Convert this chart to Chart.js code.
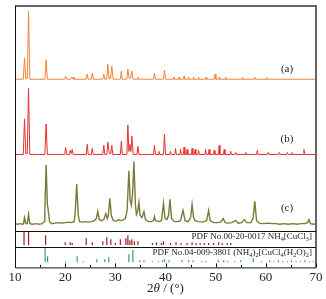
<!DOCTYPE html>
<html lang="en">
<head>
<meta charset="UTF-8">
<title>XRD patterns</title>
<script src="https://cdn.jsdelivr.net/npm/chart.js"></script>
<style>
  html, body { margin: 0; padding: 0; background: #fff; }
  #wrap { width: 326px; height: 299px; }
</style>
</head>
<body>
<div id="wrap"><canvas id="xrd"></canvas></div>
<script>
// x axis
const xTicks = [10, 20, 30, 40, 50, 60, 70];

// measured patterns, [2theta, intensity] pairs (arbitrary units)
const traceA = [
  [10,0],[11.65,0],[11.9,21],[12.15,0.5],[12.45,0.5],[12.7,67],[12.95,0],
  [15.95,0],[16.2,19],[16.45,0],[19.9,0],[20.1,3],[20.3,0],
  [21.1,0],[21.3,2],[21.45,0.5],[21.6,2],[21.75,0],
  [24.2,0],[24.4,5],[24.6,0],[25.2,0],[25.4,6],[25.6,0],
  [27.5,0],[27.7,5],[27.9,0],[28.3,0],[28.5,15],[28.75,0.5],[29.05,0.5],[29.3,13],[29.55,0],
  [31.0,0],[31.2,8],[31.4,0],[32.3,0],[32.5,10],[32.75,1],[33.05,1],[33.3,8],[33.55,0],
  [34.35,0],[34.5,2],[34.65,0],[37.6,0],[37.8,6],[38.0,0],[39.6,0],[39.8,9],[40.0,0],
  [41.6,0],[41.7,2],[41.8,0],[42.6,0],[42.7,2],[42.8,0],[43.6,0],[43.7,3],[43.8,0],
  [44.5,0],[44.6,2],[44.7,0],[45.5,0],[45.6,2],[45.7,0],[46.5,0],[46.6,2],[46.7,0],
  [48.0,0],[48.1,2],[48.2,0],[49.75,0],[49.9,5],[50.05,0],[50.6,0],[50.7,2],[50.8,0],
  [51.9,0],[52.0,2],[52.1,0],[55.2,0],[55.3,1.5],[55.4,0],[57.7,0],[57.8,2],[57.9,0],
  [60.1,0],[60.2,1.5],[60.3,0],[70,0]
];
const traceB = [
  [10,0],[11.65,0],[11.9,35],[12.15,1],[12.45,1],[12.7,65],[12.95,0],
  [15.95,0],[16.2,30],[16.45,0],[19.9,0],[20.1,7],[20.3,0],
  [20.85,0],[21.0,4],[21.2,1],[21.4,5],[21.6,0],
  [24.2,0],[24.4,10],[24.6,0],[25.2,0],[25.4,6],[25.6,0],
  [27.5,0],[27.7,9],[27.9,0],[28.3,0],[28.5,12],[28.8,1],[29.1,1],[29.3,9],[29.5,0],
  [31.0,0],[31.2,13],[31.4,0],[32.3,0],[32.5,29],[32.7,3],[32.9,10],[33.1,3],[33.3,18],[33.55,0],
  [34.3,0],[34.5,8],[34.7,0],[37.6,0],[37.8,9],[38.0,0],[38.55,0],[38.7,3],[38.85,0],
  [39.6,0],[39.8,20],[40.0,0],
  [40.85,0],[41.0,3],[41.15,0],[41.85,0],[42.0,6],[42.15,0],[42.85,0],[43.0,5],[43.15,0],
  [43.55,0],[43.7,7],[43.85,0],[44.15,0],[44.3,5],[44.45,0],[45.15,0],[45.3,6],[45.45,0],
  [45.75,0],[45.9,5],[46.05,0],[46.45,0],[46.6,4],[46.75,0],[47.85,0],[48.0,5],[48.15,0],
  [48.55,0],[48.7,5],[48.85,0],[49.55,0],[49.7,4],[49.85,0],[50.55,0],[50.7,9],[50.85,0],
  [51.55,0],[51.7,5],[51.85,0],[52.85,0],[53.0,3],[53.15,0],[53.85,0],[54.0,2],[54.15,0],
  [55.85,0],[56.0,2],[56.15,0],[58.15,0],[58.3,4],[58.45,0],[60.35,0],[60.5,2],[60.65,0],
  [62.55,0],[62.7,2],[62.85,0],[64.15,0],[64.3,2],[64.45,0],[65.05,0],[65.2,2],[65.35,0],
  [67.45,0],[67.6,5],[67.75,0],[70,0]
];
const traceC = [
  [10,1],[10.5,0.5],[11,1],[11.5,0.5],[11.7,1],[11.9,7],[12.15,1],[12.45,1],[12.7,10],[12.95,1],
  [13.5,0.5],[14.2,1],[14.8,0.5],[15.4,1],[15.8,3],[15.95,14],[16.2,59],[16.45,20],[16.6,15],[16.9,3],
  [17.3,1],[18,1.5],[18.7,2],[19.4,1.5],[20,2],[20.6,2.5],[21.2,2],[21.8,3],[22.0,12],[22.3,40],
  [22.6,10],[22.85,3],[23.4,2.5],[24.0,3],[24.6,2.5],[25.2,3],[25.8,4],[26.2,6],[26.5,13],[26.8,5],
  [27.2,4],[27.7,5],[28.1,11],[28.4,6],[28.6,9],[28.9,26],[29.2,9],[29.6,4],[30.2,3.5],[30.6,5],
  [31.0,4],[31.5,4.5],[32.0,6],[32.35,14],[32.7,53],[32.95,24],[33.2,19],[33.45,32],[33.7,62],[34.0,20],
  [34.2,10],[34.45,13],[34.7,22],[34.95,9],[35.3,7],[35.7,13],[36.0,5],[36.6,3],[37.2,3],[37.6,4],
  [37.8,8],[38.0,4],[38.6,3],[39.2,4],[39.6,21],[39.9,6],[40.3,5],[40.6,9],[40.9,25],[41.2,6],
  [41.8,3],[42.4,3],[43.0,4],[43.5,14],[43.9,4],[44.5,3],[45.0,7],[45.3,20],[45.6,7],[45.9,4],
  [46.6,3],[47.4,2.5],[48.2,4],[48.6,14],[48.9,4],[49.6,2],[50.3,2],[51.0,2.5],[51.5,6],[51.9,2],
  [52.5,1.5],[53.2,2],[54.0,4],[54.5,1.5],[55.2,2],[55.7,5],[56.2,2],[57.0,2],[57.45,6],[57.8,23],
  [58.15,4],[58.7,1.5],[59.5,1],[60.3,1.5],[61.2,1],[62.0,1],[62.8,0.5],[63.6,1],[64.5,0.5],[65.3,1],
  [66.2,0.5],[67.0,1],[67.8,1],[68.3,2],[68.6,5],[68.9,1],[69.5,0.5],[70,1]
];

// reference cards
const pdf1Theta = [11.8, 12.7, 16.1, 20.0, 21.0, 21.4, 24.2, 25.4, 27.5, 28.3, 29.1, 30.0, 31.0, 32.1, 32.5, 32.9, 33.3, 33.8, 34.5, 37.4, 38.2, 39.2, 39.6, 41.0, 42.1, 43.1, 44.3, 45.3, 46.1, 46.9, 47.7, 48.6, 49.6, 50.6, 51.3, 52.3, 53.0];
const pdf1Int = [14, 14, 10, 3, 3, 2, 7, 3, 4, 8, 6, 2, 6, 7, 10, 5, 6, 4, 4, 2, 3, 2, 4, 2, 3, 2, 2, 3, 2, 2, 2, 2, 2, 3, 2, 2, 2];
const pdf2Theta = [16.0, 16.5, 20.1, 22.4, 23.6, 26.3, 27.9, 28.7, 32.7, 33.5, 34.9, 35.7, 37.4, 38.6, 39.4, 39.8, 40.7, 43.3, 44.6, 45.5, 47.2, 48.0, 50.5, 51.6, 52.4, 53.8, 55.0, 57.5, 59.2, 60.8, 61.6, 62.5, 63.4, 64.3, 65.1, 66.0, 66.9, 67.8, 68.7, 69.5];
const pdf2Int = [14, 6, 1, 6, 1, 3, 3, 5, 8, 12, 2, 2, 1, 1, 2, 3, 2, 2, 2, 2, 1, 1, 2, 2, 1, 1, 2, 4, 1, 2, 1, 2, 1, 1, 2, 1, 1, 2, 1, 1];

const traceLabels = ['(a)', '(b)', '(c)'];
const offsets = [149, 75, 6];   // vertical stacking of the three patterns
const colors = ['#f0843a', '#e8312f', '#7b7b38'];

function toPoints(trace, off) {
  return trace.map(p => ({x: p[0], y: p[1] + off}));
}
function sticks(pos, h) {
  const out = [];
  pos.forEach((t, i) => { out.push({x: t, y: 0}, {x: t, y: h[i]}, {x: t, y: null}); });
  return out;
}

const serif = "'Liberation Serif', 'Times New Roman', serif";

function drawRich(ctx, parts, xRight, y, size) {
  // parts: [text, isSub]
  let w = 0;
  parts.forEach(p => {
    ctx.font = (p[1] ? size * 0.7 : size) + 'px ' + serif;
    w += ctx.measureText(p[0]).width;
  });
  let x = xRight - w;
  parts.forEach(p => {
    ctx.font = (p[1] ? size * 0.7 : size) + 'px ' + serif;
    ctx.fillText(p[0], x, p[1] ? y + 2 : y);
    x += ctx.measureText(p[0]).width;
  });
}

const decor = {
  id: 'decor',
  afterDatasetsDraw(chart) {
    const {ctx, chartArea: a, scales} = chart;
    ctx.save();
    // frame
    ctx.strokeStyle = '#666';
    ctx.lineWidth = 2;
    ctx.beginPath();
    ctx.moveTo(a.left, a.top); ctx.lineTo(a.right, a.top); ctx.lineTo(a.right, a.bottom);
    ctx.stroke();
    ctx.strokeStyle = '#111';
    ctx.lineWidth = 1;
    ctx.beginPath();
    ctx.moveTo(a.left + 0.5, a.top); ctx.lineTo(a.left + 0.5, a.bottom + 0.5); ctx.lineTo(a.right, a.bottom + 0.5);
    [scales.y.bottom, scales.p1.bottom].forEach(yy => {
      ctx.moveTo(a.left, Math.round(yy) + 0.5); ctx.lineTo(a.right, Math.round(yy) + 0.5);
    });
    // inward ticks on the bottom axis
    const xs = scales.x;
    for (let v = xs.min; v <= xs.max; v += 5) {
      const px = Math.round(xs.getPixelForValue(v)) + 0.5;
      const len = v % 10 === 0 ? 4 : 2.5;
      ctx.moveTo(px, a.bottom); ctx.lineTo(px, a.bottom - len);
    }
    ctx.stroke();

    // pattern labels
    ctx.fillStyle = '#222';
    ctx.textAlign = 'center';
    ctx.textBaseline = 'alphabetic';
    ctx.font = '11px ' + serif;
    const labelY = [72, 142, 211];
    traceLabels.forEach((t, i) => ctx.fillText(t, 287, labelY[i]));

    // card labels
    ctx.textAlign = 'left';
    drawRich(ctx, [['PDF No.00-20-0017 NH', 0], ['4', 1], ['[CuCl', 0], ['3', 1], [']', 0]], a.right - 4, scales.p1.top + 8, 9);
    drawRich(ctx, [['PDF No.04-009-3801 (NH', 0], ['4', 1], [')', 0], ['2', 1], ['[CuCl', 0], ['4', 1], ['(H', 0], ['2', 1], ['O)', 0], ['2', 1], [']', 0]], a.right - 4, scales.p2.top + 8, 9);

    // axis title: 2θ / (°)
    const parts = [['2', '13px ' + serif], ['θ', 'italic 13px ' + serif], [' / (°)', '13px ' + serif]];
    let w = 0;
    parts.forEach(p => { ctx.font = p[1]; w += ctx.measureText(p[0]).width; });
    let x = (a.left + a.right) / 2 - w / 2;
    parts.forEach(p => { ctx.font = p[1]; ctx.fillText(p[0], x, 292); x += ctx.measureText(p[0]).width; });
    ctx.restore();
  }
};

const datasets = [traceA, traceB, traceC].map((t, i) => ({
  data: toPoints(t, offsets[i]),
  borderColor: colors[i],
  borderWidth: i === 2 ? 1.4 : 1,
  pointRadius: 0,
  tension: 0,
  yAxisID: 'y'
}));
datasets.push({
  data: sticks(pdf1Theta, pdf1Int), borderColor: '#9b1f22', borderWidth: 1.2,
  pointRadius: 0, spanGaps: false, yAxisID: 'p1'
});
datasets.push({
  data: sticks(pdf2Theta, pdf2Int), borderColor: '#3aa066', borderWidth: 1.2,
  pointRadius: 0, spanGaps: false, yAxisID: 'p2'
});

const hiddenY = (min, max, weight) => ({
  type: 'linear', position: 'left', stack: 'panels', stackWeight: weight,
  min: min, max: max, offset: false,
  grid: {display: false}, border: {display: false}, ticks: {display: false}
});

new Chart(document.getElementById('xrd'), {
  type: 'line',
  data: {datasets: datasets},
  options: {
    responsive: true,
    maintainAspectRatio: false,
    devicePixelRatio: 1,
    animation: false,
    layout: {padding: {left: 7, right: 10, top: 6, bottom: 12}},
    plugins: {legend: {display: false}, tooltip: {enabled: false}},
    scales: {
      x: {
        type: 'linear', min: 10, max: 70,
        grid: {display: false, drawTicks: false},
        border: {display: false},
        afterBuildTicks: s => { s.ticks = xTicks.map(v => ({value: v})); },
        ticks: {color: '#222', padding: 2, font: {family: serif, size: 13}, maxRotation: 0}
      },
      // stacked panels: first listed sits at the bottom
      p2: hiddenY(-5, 15, 20),
      p1: hiddenY(-2, 14.5, 16),
      y: hiddenY(0, 221, 221)
    }
  },
  plugins: [decor]
});
</script>
</body>
</html>
